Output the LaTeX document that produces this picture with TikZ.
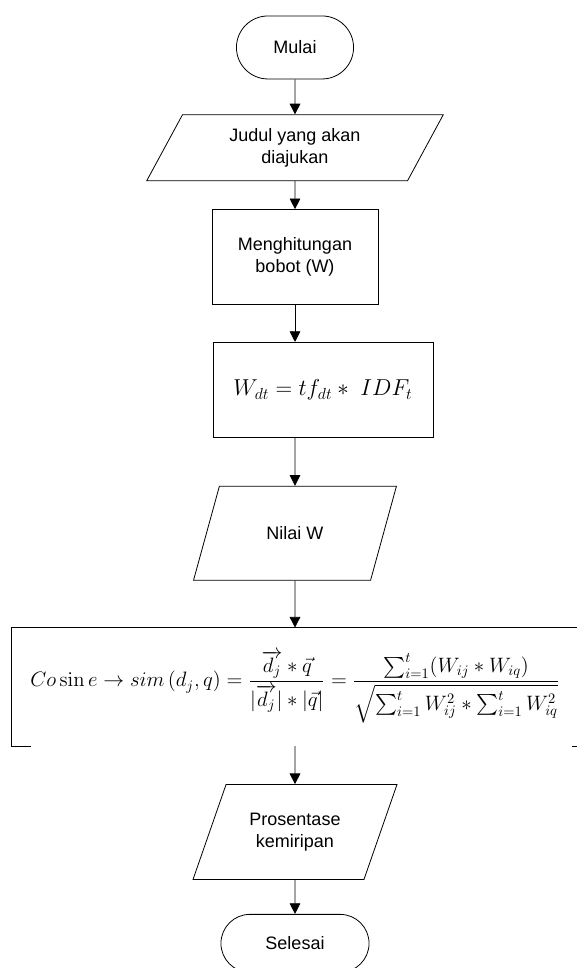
\documentclass[tikz,border=0pt]{standalone}
\usepackage{amsmath,graphicx}
\usepackage[no-math]{fontspec}
\setmainfont{Liberation Sans}
\usetikzlibrary{arrows.meta,positioning,shapes.geometric,shapes.misc}
\tikzset{
  blk/.style={draw,line width=0.6pt,align=center,font=\fontsize{13.5}{16.5}\selectfont},
  termblk/.style={blk,rounded rectangle,minimum width=94.5pt,minimum height=47.25pt},
  ioblk/.style={blk,trapezium,trapezium left angle=63,trapezium right angle=117,trapezium stretches=true,minimum width=153pt,minimum height=70.5pt},
  procblk/.style={blk,rectangle,minimum width=124.5pt,minimum height=71.25pt},
  arr/.style={-{Triangle[width=8pt,length=8pt]},line width=0.6pt}
}

\begin{document}
\begin{tikzpicture}[node distance=26pt]
  \useasboundingbox (0,0) rectangle (432.75pt,-726pt);
  \node[termblk] (mulai) at (221.25pt,-35.6pt) {Mulai};
  \node[ioblk, below=26.25pt of mulai, minimum width=222.75pt, minimum height=49.5pt, trapezium left angle=65, trapezium right angle=115] (judul) {Judul yang akan\\diajukan};
  \node[procblk, below=21pt of judul] (bobot) {Menghitungan\\bobot (W)};
  \node[procblk, below=27.75pt of bobot, xshift=21pt, minimum width=165pt] (wdt) {\fontsize{18}{20}\selectfont $W_{dt} = tf_{dt} * \; IDF_t$};
  \node[ioblk, below=36pt of wdt, xshift=-21pt] (nilai) {Nilai W};
  \node[below=35.25pt of nilai, minimum width=424.5pt, minimum height=88.5pt, font=\fontsize{14.8}{17}\selectfont] (cosine)
    {\raisebox{-4pt}{\resizebox{397pt}{!}{$\displaystyle Co\sin e \rightarrow sim\left(d_j,q\right) = \frac{\overrightarrow{d_j} * \vec{q}}{|\overrightarrow{d_j}| * |\vec{q}|} = \frac{\textstyle\sum_{i=1}^{t}(W_{ij} * W_{iq})}{\sqrt{\textstyle\sum_{i=1}^{t} W_{ij}^2 * \sum_{i=1}^{t} W_{iq}^2}}$}}};
  \node[ioblk, below=28.5pt of cosine, minimum height=71.25pt] (prosen) {Prosentase\\kemiripan};
  \node[termblk, below=25.5pt of prosen, minimum width=117.75pt, minimum height=43.5pt] (selesai) {Selesai};

  % box of the cosine formula, bottom edge mostly hidden
  \draw[line width=0.6pt] ([xshift=14.25pt]cosine.south west) -- (cosine.south west) -- (cosine.north west) -- (cosine.north east) -- (cosine.south east) -- ([xshift=-4.5pt]cosine.south east);

  \draw[arr] (mulai) -- (judul);
  \draw[arr] (judul) -- (bobot);
  \draw[arr] (bobot) -- (bobot |- wdt.north);
  \draw[arr] (nilai |- wdt.south) -- (nilai);
  \draw[arr] (nilai) -- (cosine);
  \draw[arr] (cosine) -- (prosen);
  \draw[arr] (prosen) -- (selesai);
\end{tikzpicture}
\end{document}
